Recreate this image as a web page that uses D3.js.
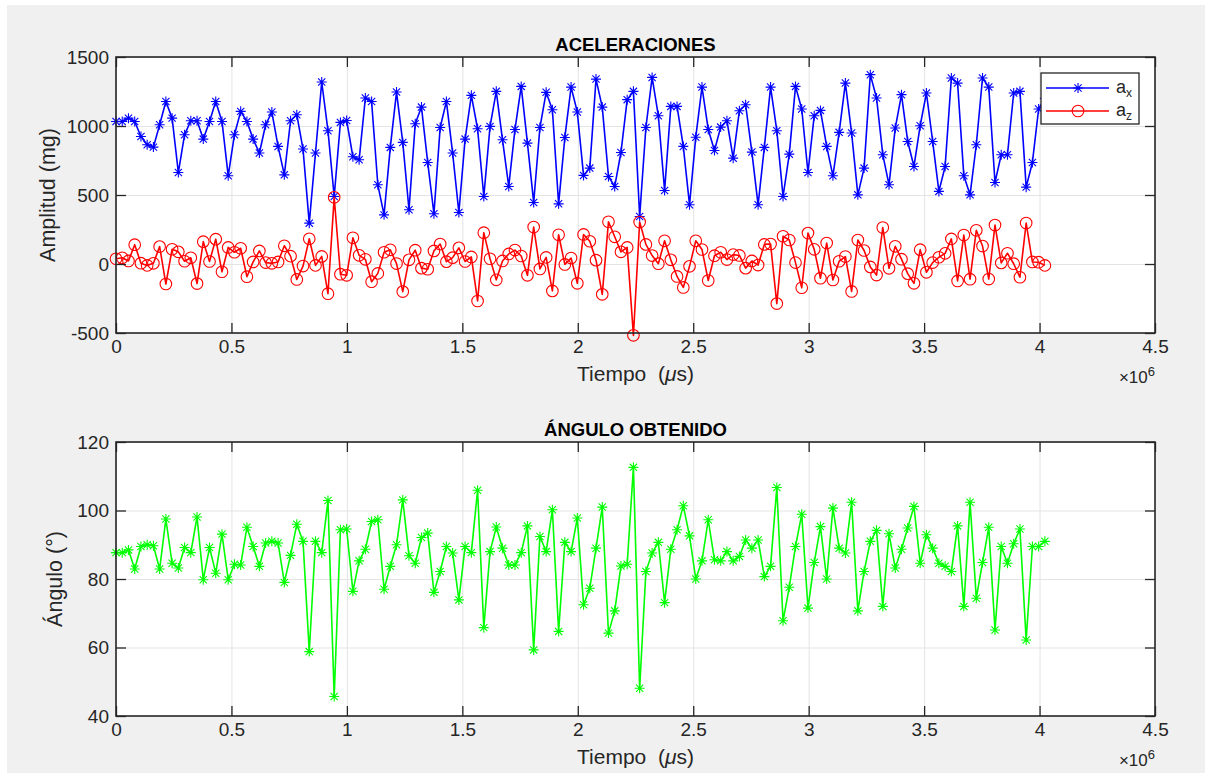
<!DOCTYPE html>
<html>
<head>
<meta charset="utf-8">
<script src="https://cdnjs.cloudflare.com/ajax/libs/d3/7.8.5/d3.min.js"></script>
<style>
  body { margin: 0; background: #fff; }
  text { font-family: "Liberation Sans", Arial, Helvetica, sans-serif; }
</style>
</head>
<body>
<div id="wrapper"></div>
<script>
// sensor samples, one every sampleStep microseconds
const sampleStep = 27000

// acceleration on x (mg)
const accelX = [
  1033, 1033, 1057, 1033, 924, 864, 847, 1009, 1178, 1057,
  663, 937, 1038, 1038, 905, 1033, 1178, 1033, 639, 937,
  1106, 1033, 905, 804, 1009, 1101, 852, 646, 1038, 1082,
  833, 296, 804, 1319, 966, 489, 1026, 1040, 777, 755,
  1203, 1178, 574, 356, 845, 1246, 881, 393, 1016, 1137,
  736, 364, 989, 1178, 804, 373, 905, 1222, 980, 489,
  997, 1251, 900, 562, 975, 1287, 876, 446, 989, 1244,
  1118, 436, 917, 1282, 1101, 642, 695, 1340, 1137, 634,
  562, 808, 1191, 1251, 344, 989, 1352, 1074, 533, 1142,
  1142, 852, 429, 919, 1282, 975, 823, 992, 1038, 767,
  1111, 1154, 811, 429, 845, 1282, 966, 489, 796, 1287,
  1123, 663, 1074, 1113, 852, 639, 954, 1311, 949, 501,
  695, 1372, 1203, 792, 574, 985, 1227, 888, 707, 1002,
  1239, 888, 526, 707, 1348, 1311, 639, 501, 864, 1348,
  1282, 591, 792, 792, 1239, 1251, 557, 736, 1123, 1200
]

// acceleration on z (mg)
const accelZ = [
  38, 45, 22, 140, 6, -10, 5, 126, -145, 107,
  88, 20, 45, -142, 162, 18, 180, -56, 120, 85,
  114, -92, 15, 95, 10, 5, 15, 132, 57, -112,
  -15, 183, -10, 55, -215, 483, -74, -82, 190, 63,
  34, -128, -68, 85, 103, 3, -200, 30, 100, -30,
  -38, 95, 145, 17, 46, 117, 18, 51, -268, 227,
  38, -115, 22, 73, 101, 58, -82, 268, -36, 48,
  -195, 212, -3, 43, -140, 214, 165, 28, -220, 306,
  197, 88, 120, -517, 304, 142, 61, 2, 168, 30,
  -90, -170, -17, 168, 105, -120, 60, 85, 32, 68,
  62, -30, 22, -8, 142, 145, -287, 201, 174, 10,
  -172, 224, 106, -103, 152, -116, 20, 54, -199, 174,
  98, -21, -80, 264, -31, 128, 35, -70, -140, 104,
  -60, 10, 49, 77, 182, -123, 210, -110, 244, 130,
  -109, 282, 8, 78, 2, -96, 297, 15, 13, -10
]

// tilt angle (degrees)
const angle = [
  87.7, 87.7, 88.5, 82.9, 89.5, 90, 89.7, 82.9, 97.5, 84.6,
  83.2, 89.2, 87.7, 98.1, 79.8, 89.2, 81.7, 93.1, 79.8, 84.3,
  84.1, 95.1, 89.5, 83.7, 90.5, 91, 90.5, 79, 86.9, 96,
  91, 58.8, 91, 87.7, 102.9, 45.7, 94.4, 94.6, 76.4, 85.3,
  88.7, 96.8, 97.3, 77, 83.7, 90, 103.1, 86.8, 84.6, 92.1,
  93.4, 76.1, 82.2, 89.5, 87.6, 73.9, 89.5, 87.7, 105.9, 65.8,
  88, 95.2, 89, 84.1, 84.1, 87.7, 95.5, 59.3, 92.4, 88,
  100.2, 64.7, 90.7, 88, 97.8, 72.5, 77.3, 89, 101, 64.2,
  70.7, 83.8, 84.3, 112.6, 48.1, 82.2, 87.6, 90.7, 73.1, 88.7,
  94.4, 101.4, 92.6, 80, 85.3, 97.3, 85.6, 85.3, 88, 85.3,
  86.6, 91.4, 89, 91.4, 80.7, 83.7, 106.7, 67.8, 77.6, 89.5,
  98.9, 71.5, 84.8, 95.3, 80, 100.7, 89, 87.6, 102.4, 70.7,
  82.2, 91, 94.2, 72, 93.2, 83.2, 88.7, 94.9, 101.2, 84.6,
  92.9, 89, 84.6, 83.7, 82.2, 95.5, 72, 102.4, 74.4, 84.8,
  95.1, 65.1, 89.5, 84.6, 90.3, 94.6, 62.2, 89.5, 89.5, 91
]

const timeTicks = [0, 0.5e6, 1e6, 1.5e6, 2e6, 2.5e6, 3e6, 3.5e6, 4e6, 4.5e6]
const accelTicks = [-500, 0, 500, 1000, 1500]
const angleTicks = [40, 60, 80, 100, 120]

const time = accelX.map((d, i) => i * sampleStep)

const width = 1212
const height = 778
const axisColor = "#262626"
const gridColor = "#e3e3e3"

const svg = d3.select("#wrapper")
  .append("svg")
    .attr("width", width)
    .attr("height", height)

// figure background
svg.append("rect")
    .attr("x", 7).attr("y", 5)
    .attr("width", 1198).attr("height", 768)
    .attr("fill", "#f0f0f0")

const starPath = "M-5,0H5M0,-5V5M-3.6,-3.6L3.6,3.6M-3.6,3.6L3.6,-3.6"
const circlePath = d3.arc()({ innerRadius: 0, outerRadius: 5.8, startAngle: 0, endAngle: 2 * Math.PI })
  .replace(/L0,0Z$/, "Z")

function drawPanel(p) {
  const xScale = d3.scaleLinear()
      .domain([0, 4.5e6])
      .range([p.left, p.right])
  const yScale = d3.scaleLinear()
      .domain(p.yDomain)
      .range([p.bottom, p.top])

  const g = svg.append("g")

  g.append("rect")
      .attr("x", p.left).attr("y", p.top)
      .attr("width", p.right - p.left).attr("height", p.bottom - p.top)
      .attr("fill", "#fff")

  // grid
  const gridX = g.append("g")
      .attr("transform", `translate(0,${p.bottom})`)
      .call(d3.axisBottom(xScale).tickValues(timeTicks)
        .tickSize(-(p.bottom - p.top)).tickFormat(""))
  const gridY = g.append("g")
      .attr("transform", `translate(${p.left},0)`)
      .call(d3.axisLeft(yScale).tickValues(p.yTicks)
        .tickSize(-(p.right - p.left)).tickFormat(""))
  for (const gr of [gridX, gridY]) {
    gr.select(".domain").remove()
    gr.selectAll("line").attr("stroke", gridColor).attr("stroke-width", 1)
  }

  // series
  p.series.forEach(s => {
    const pts = s.values.map((v, i) => [time[i], v])
    g.append("path")
        .datum(pts)
        .attr("fill", "none")
        .attr("stroke", s.color)
        .attr("stroke-width", 1.6)
        .attr("stroke-linejoin", "round")
        .attr("d", d3.line().x(d => xScale(d[0])).y(d => yScale(d[1])))
    g.append("g").selectAll("path")
      .data(pts)
      .join("path")
        .attr("transform", d => `translate(${xScale(d[0])},${yScale(d[1])})`)
        .attr("d", s.marker === "star" ? starPath : circlePath)
        .attr("fill", "none")
        .attr("stroke", s.color)
        .attr("stroke-width", 1.1)
  })

  // axes with inward ticks
  const tickLen = 10
  const axes = [
    g.append("g").attr("transform", `translate(0,${p.bottom})`)
      .call(d3.axisBottom(xScale).tickValues(timeTicks)
        .tickSizeInner(-tickLen).tickSizeOuter(0).tickPadding(7)
        .tickFormat(d => d / 1e6)),
    g.append("g").attr("transform", `translate(0,${p.top})`)
      .call(d3.axisTop(xScale).tickValues(timeTicks)
        .tickSizeInner(-tickLen).tickSizeOuter(0).tickFormat("")),
    g.append("g").attr("transform", `translate(${p.left},0)`)
      .call(d3.axisLeft(yScale).tickValues(p.yTicks)
        .tickSizeInner(-tickLen).tickSizeOuter(0).tickPadding(7)
        .tickFormat(d => String(d))),
    g.append("g").attr("transform", `translate(${p.right},0)`)
      .call(d3.axisRight(yScale).tickValues(p.yTicks)
        .tickSizeInner(-tickLen).tickSizeOuter(0).tickFormat(""))
  ]
  axes.forEach(a => {
    a.select(".domain").remove()
    a.selectAll("line").attr("stroke", axisColor).attr("stroke-width", 1.3)
    a.selectAll("text")
        .attr("fill", axisColor)
        .style("font-size", "19px")
  })

  g.append("rect")
      .attr("x", p.left).attr("y", p.top)
      .attr("width", p.right - p.left).attr("height", p.bottom - p.top)
      .attr("fill", "none")
      .attr("stroke", axisColor)
      .attr("stroke-width", 1.6)

  // title
  g.append("text")
      .attr("x", (p.left + p.right) / 2)
      .attr("y", p.top - 6)
      .attr("text-anchor", "middle")
      .style("font-size", "18.5px")
      .style("font-weight", "bold")
      .attr("fill", "#000")
      .text(p.title)

  // x label
  const xl = g.append("text")
      .attr("x", (p.left + p.right) / 2)
      .attr("y", p.bottom + 48)
      .attr("text-anchor", "middle")
      .style("font-size", "21px")
      .attr("fill", axisColor)
  xl.append("tspan").text("Tiempo\u00a0\u00a0(")
  xl.append("tspan").style("font-style", "italic").text("\u03bc")
  xl.append("tspan").text("s)")

  // exponent
  const ex = g.append("text")
      .attr("x", p.right)
      .attr("y", p.bottom + 50)
      .attr("text-anchor", "end")
      .style("font-size", "17px")
      .attr("fill", axisColor)
  ex.append("tspan").text("\u00d710")
  ex.append("tspan").attr("dy", -7).style("font-size", "13px").text("6")

  // y label
  g.append("text")
      .attr("transform", `translate(${p.ylabelX},${(p.top + p.bottom) / 2}) rotate(-90)`)
      .attr("text-anchor", "middle")
      .style("font-size", "21.5px")
      .attr("fill", axisColor)
      .text(p.ylabel)

  return { xScale, yScale }
}

drawPanel({
  left: 116, right: 1155, top: 57, bottom: 333,
  yDomain: [-500, 1500], yTicks: accelTicks,
  title: "ACELERACIONES", ylabel: "Amplitud (mg)", ylabelX: 55,
  series: [
    { values: accelX, color: "#0000ff", marker: "star" },
    { values: accelZ, color: "#ff0000", marker: "circle" }
  ]
})

drawPanel({
  left: 116, right: 1155, top: 442, bottom: 716,
  yDomain: [40, 120], yTicks: angleTicks,
  title: "\u00c1NGULO OBTENIDO", ylabel: "\u00c1ngulo (\u00b0)", ylabelX: 62,
  series: [
    { values: angle, color: "#00ff00", marker: "star" }
  ]
})

// legend
const legend = svg.append("g")
legend.append("rect")
    .attr("x", 1041).attr("y", 73)
    .attr("width", 98).attr("height", 51)
    .attr("fill", "#fff")
    .attr("stroke", axisColor)
    .attr("stroke-width", 1.3)
const legendItems = [
  { label: "a", sub: "x", color: "#0000ff", marker: "star" },
  { label: "a", sub: "z", color: "#ff0000", marker: "circle" }
]
legendItems.forEach((d, i) => {
  const y = 88 + i * 23
  legend.append("line")
      .attr("x1", 1046).attr("x2", 1109)
      .attr("y1", y).attr("y2", y)
      .attr("stroke", d.color).attr("stroke-width", 1.6)
  legend.append("path")
      .attr("transform", `translate(1078,${y})`)
      .attr("d", d.marker === "star" ? starPath : circlePath)
      .attr("fill", "none")
      .attr("stroke", d.color)
      .attr("stroke-width", 1.1)
  const t = legend.append("text")
      .attr("x", 1116).attr("y", y + 5)
      .style("font-size", "18px")
      .attr("fill", axisColor)
  t.append("tspan").text(d.label)
  t.append("tspan").attr("dy", 4).style("font-size", "12px").text(d.sub)
})
</script>
</body>
</html>
